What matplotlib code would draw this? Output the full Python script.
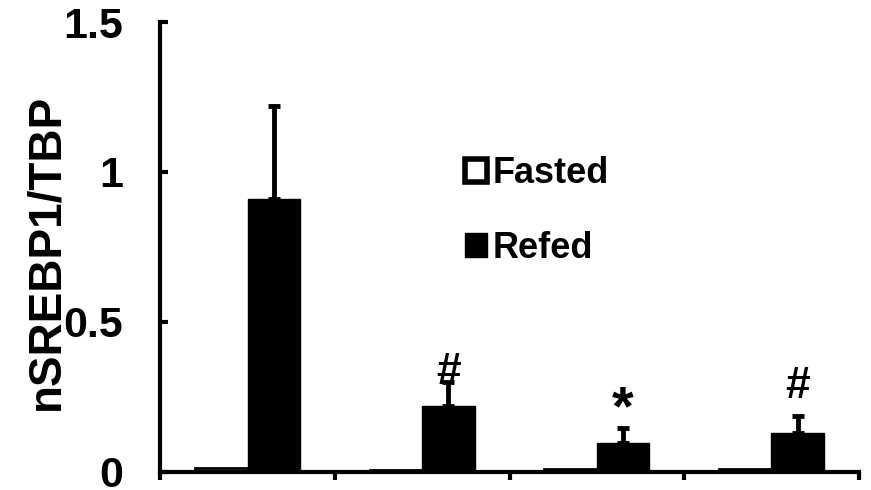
import matplotlib
matplotlib.use("Agg")
import matplotlib.pyplot as plt
from matplotlib.patches import Patch
import numpy as np

plt.rcParams['font.family'] = ['Liberation Sans', 'DejaVu Sans']
plt.rcParams['font.weight'] = 'bold'

# datos
grupos = [0, 1, 2, 3]
fasted = [0.012, 0.005, 0.010, 0.008]
refed = [0.91, 0.22, 0.097, 0.13]
refed_err = [0.31, 0.08, 0.05, 0.055]
marcas = ['', '#', '*', '#']
marca_y = [0, 0.33, 0.205, 0.285]

fig = plt.figure(figsize=(8.71, 4.90), dpi=100)
ax = fig.add_axes([0.184, 0.037, 0.802, 0.918])

x = np.array(grupos)
ancho = 0.3
ax.bar(x - 0.15, fasted, ancho, color='white', edgecolor='black', linewidth=2)
ax.bar(x + 0.15, refed, ancho, color='black', edgecolor='black', linewidth=1,
       yerr=[np.zeros(len(refed)), refed_err], capsize=4.5,
       error_kw=dict(elinewidth=3.5, capthick=3.5, ecolor='black'))

for xi, m, my in zip(x, marcas, marca_y):
    if m:
        tam = 40 if m == '*' else 32
        ax.text(xi + 0.15, my, m, ha='center', va='center', fontsize=tam, fontweight='bold')

ax.set_xlim(-0.5, 3.5)
ax.set_ylim(0, 1.5)
ax.set_yticks([0, 0.5, 1, 1.5])
ax.set_yticklabels(['0', '0.5', '1', '1.5'])
ax.set_xticks([-0.5, 0.5, 1.5, 2.5, 3.5])
ax.set_xticklabels([])
ax.tick_params(axis='y', direction='in', length=6, width=3, labelsize=31, pad=27)
ax.tick_params(axis='x', direction='out', length=6, width=3)
for s in ['top', 'right']:
    ax.spines[s].set_visible(False)
for s in ['left', 'bottom']:
    ax.spines[s].set_linewidth(3)

ax.set_ylabel('nSREBP1/TBP', fontsize=33, fontweight='bold', va='center')
ax.yaxis.set_label_coords(-0.163, 0.489)

handles = [Patch(facecolor='white', edgecolor='black', linewidth=4),
           Patch(facecolor='black', edgecolor='black')]
ax.legend(handles, ['Fasted', 'Refed'], loc='center left', bbox_to_anchor=(0.436, 0.580),
          frameon=False, handlelength=0.62, handleheight=0.62, borderpad=0, borderaxespad=0,
          handletextpad=0.15, labelspacing=1.1, prop={'weight': 'bold', 'size': 26})

fig.savefig('out.png', dpi=100)
